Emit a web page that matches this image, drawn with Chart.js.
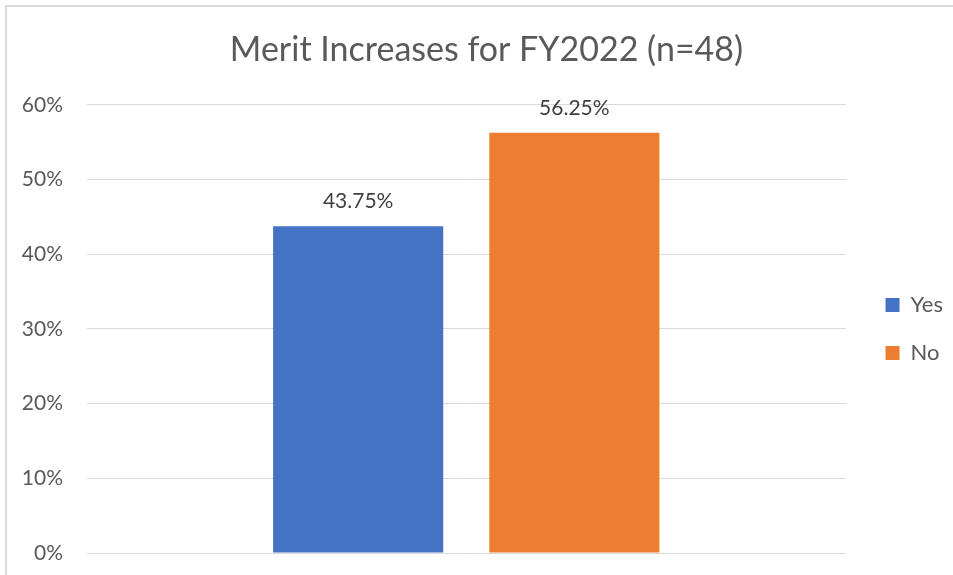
<!DOCTYPE html>
<html>
<head>
<meta charset="utf-8">
<script src="https://cdn.jsdelivr.net/npm/chart.js@4.4.1/dist/chart.umd.min.js"></script>
<style>
  html, body { margin: 0; padding: 0; background: #ffffff; }
  #wrap { width: 953px; height: 575px; position: relative; }
</style>
</head>
<body>
<div id="wrap"><canvas id="chart1"></canvas></div>
<script>
// datos del grafico
const categories = [""];
const seriesNames = ["Yes", "No"];
const seriesValues = [43.75, 56.25];
const seriesColors = ["#4472C4", "#ED7D31"];
const yMax = 60;
const yStep = 10;

const chart1Data = {
  labels: categories,
  datasets: seriesNames.map((name, i) => ({
    label: name,
    data: [seriesValues[i]],
    backgroundColor: seriesColors[i],
    borderWidth: 0,
    categoryPercentage: 0.57,
    barPercentage: 0.787
  }))
};

// marco gris de la hoja
const framePlugin = {
  id: "frame",
  beforeDraw(chart) {
    const ctx = chart.ctx;
    ctx.save();
    ctx.fillStyle = "#ffffff";
    ctx.fillRect(0, 0, chart.width, chart.height);
    ctx.fillStyle = "#d9d9d9";
    ctx.fillRect(5, 5, 2, chart.height - 5);
    ctx.fillRect(5, 5, chart.width - 5, 2);
    ctx.restore();
  }
};

// etiquetas de valor encima de cada barra
const valueLabels = {
  id: "valueLabels",
  afterDatasetsDraw(chart) {
    const ctx = chart.ctx;
    ctx.save();
    ctx.font = "21px Lato";
    ctx.fillStyle = "#404040";
    ctx.textAlign = "center";
    ctx.textBaseline = "middle";
    chart.data.datasets.forEach((ds, i) => {
      chart.getDatasetMeta(i).data.forEach((bar, j) => {
        ctx.fillText(ds.data[j].toFixed(2) + "%", bar.x, bar.y - 25);
      });
    });
    ctx.restore();
  }
};

const chart1Canvas = document.getElementById("chart1");

new Chart(chart1Canvas, {
  type: "bar",
  data: chart1Data,
  plugins: [framePlugin, valueLabels],
  options: {
    responsive: true,
    maintainAspectRatio: false,
    animation: false,
    layout: { padding: { left: 20, right: 0, top: 0, bottom: 22 } },
    plugins: {
      title: {
        display: true,
        text: "Merit Increases for FY2022 (n=48)",
        color: "#595959",
        font: { family: "Lato", size: 34, weight: "normal" },
        padding: { top: 30, bottom: 34 }
      },
      legend: {
        position: "right",
        fullSize: false,
        labels: {
          color: "#595959",
          font: { family: "Lato", size: 22 },
          boxWidth: 14,
          boxHeight: 14,
          padding: 26
        }
      },
      tooltip: { enabled: false }
    },
    scales: {
      x: { display: false },
      y: {
        min: 0,
        max: yMax,
        border: { display: false },
        grid: { color: "#d9d9d9", drawTicks: false },
        ticks: {
          stepSize: yStep,
          padding: 24,
          color: "#595959",
          font: { family: "Lato", size: 21 },
          callback: v => v + "%"
        },
        afterFit(s) {
          s.width = 67;
          s.paddingTop = 0;
          s.paddingBottom = 0;
        }
      },
      yRight: {
        position: "right",
        display: true,
        border: { display: false },
        grid: { display: false, drawTicks: false },
        ticks: { display: false },
        afterFit(s) {
          s.width = 14;
          s.paddingTop = 0;
          s.paddingBottom = 0;
        }
      }
    }
  }
});
</script>
</body>
</html>
